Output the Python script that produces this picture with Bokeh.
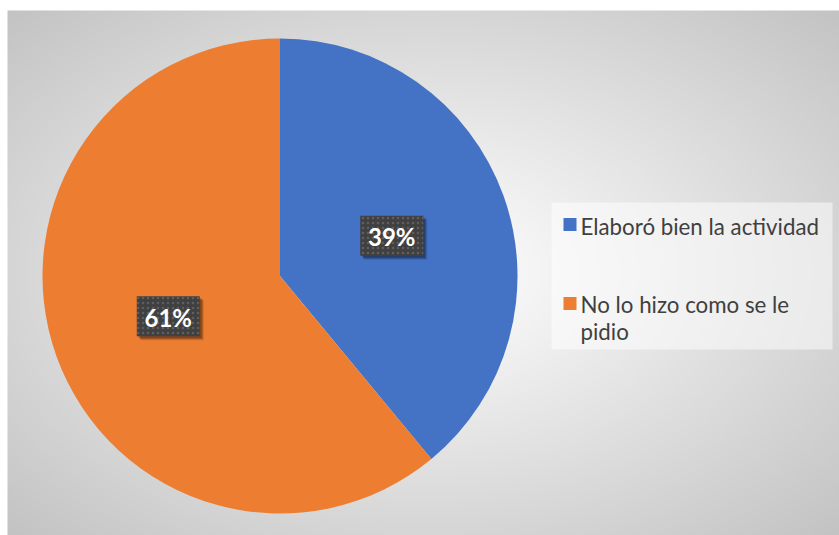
import numpy as np
from bokeh.plotting import figure
from bokeh.models import Range1d, ColumnDataSource
from bokeh.core.properties import value
from bokeh.embed import file_html
from bokeh.resources import INLINE

# ---- data ----
categories = ["Elaboró bien la actividad", "No lo hizo como se le pidio"]
percentages = [39, 61]
slice_colors = ["#4472C4", "#ED7D31"]
legend_lines = [["Elaboró bien la actividad"], ["No lo hizo como se le", "pidio"]]

W, H = 839, 535
PX0, PY0 = 0, 0
def Y(py):                # page pixel y -> data y
    return (PY0 + H) - py

p = figure(width=W, height=H, x_range=Range1d(PX0, PX0 + W), y_range=Range1d(0, H),
           output_backend="svg", toolbar_location=None, min_border=0,
           x_axis_type=None, y_axis_type=None)
p.grid.visible = False
p.outline_line_color = None
p.background_fill_color = "white"
p.border_fill_color = "white"

# ---- background radial gradient (chart area) ----
bx0, by0, bx1, by1 = 7, 10, 839, 535
gw, gh = 416, 263
xs = np.linspace(0, 1, gw)
ys = np.linspace(0, 1, gh)
gx, gy = np.meshgrid(xs, ys)
cxn, cyn = (423 - bx0) / (bx1 - bx0), (272 - by0) / (by1 - by0)
dx = (gx - cxn) / 0.5
dy = (gy - cyn) / 0.5
t = np.clip(np.sqrt(dx ** 2 + dy ** 2) / np.sqrt(2), 0, 1)
shade = (255 - 60 * t ** 1.05).astype(np.uint32)
img = (255 << 24) | (shade << 16) | (shade << 8) | shade
img = img[::-1, :].astype(np.uint32)   # row 0 = bottom
p.image_rgba(image=[img], x=bx0, y=Y(by1), dw=bx1 - bx0, dh=by1 - by0)

# ---- pie ----
cx, cy, R = 279.5, Y(275.5), 237.5
frac = np.array(percentages, dtype=float) / sum(percentages)
cum = np.concatenate([[0], np.cumsum(frac)])
start = np.pi / 2 - 2 * np.pi * cum[:-1]
end = np.pi / 2 - 2 * np.pi * cum[1:]
src = ColumnDataSource(dict(start=start, end=end, color=slice_colors, cat=categories))
p.wedge(x=cx, y=cy, radius=R, radius_units="screen", start_angle="start", end_angle="end",
        direction="clock", fill_color="color", line_color=None, source=src)

# ---- data labels ----
mid = (start + end) / 2
lx = cx + 0.5 * R * np.cos(mid)
ly = cy + 0.5 * R * np.sin(mid)
labels = [f"{v}%" for v in percentages]
bw, bh = 63, 40
for off, a in [(4, 0.12), (3, 0.18), (2, 0.22)]:
    p.rect(x=lx + off, y=ly - off, width=bw, height=bh, width_units="screen", height_units="screen",
           fill_color="black", fill_alpha=a, line_color=None)
p.rect(x=lx, y=ly, width=bw, height=bh, width_units="screen", height_units="screen",
       fill_color="#404040", line_color=None,
       hatch_pattern="dot", hatch_color="#5e5e5e", hatch_scale=5, hatch_weight=1.2)
p.text(x=lx, y=ly - 1, text=labels, text_align="center", text_baseline="middle",
       text_color="white", text_font=value("Lato"), text_font_style="bold", text_font_size="24px")

# ---- legend ----
p.rect(x=(551 + 832) / 2, y=Y((202 + 349) / 2), width=281, height=147,
       width_units="screen", height_units="screen", fill_color="white", fill_alpha=0.5, line_color=None)
sq_y = [224, 303]
text_y = [226, 304]
line_h = 26.5
for i, lines in enumerate(legend_lines):
    p.rect(x=569.5, y=Y(sq_y[i]), width=13, height=13, width_units="screen", height_units="screen",
           fill_color=slice_colors[i], line_color=None)
    for j, ln in enumerate(lines):
        p.text(x=[580], y=[Y(text_y[i] + j * line_h)], text=[ln], text_align="left",
               text_baseline="middle", text_color="#404040", text_font=value("Lato"),
               text_font_size="22.3px")

open("out.html", "w").write(file_html(p, INLINE))
